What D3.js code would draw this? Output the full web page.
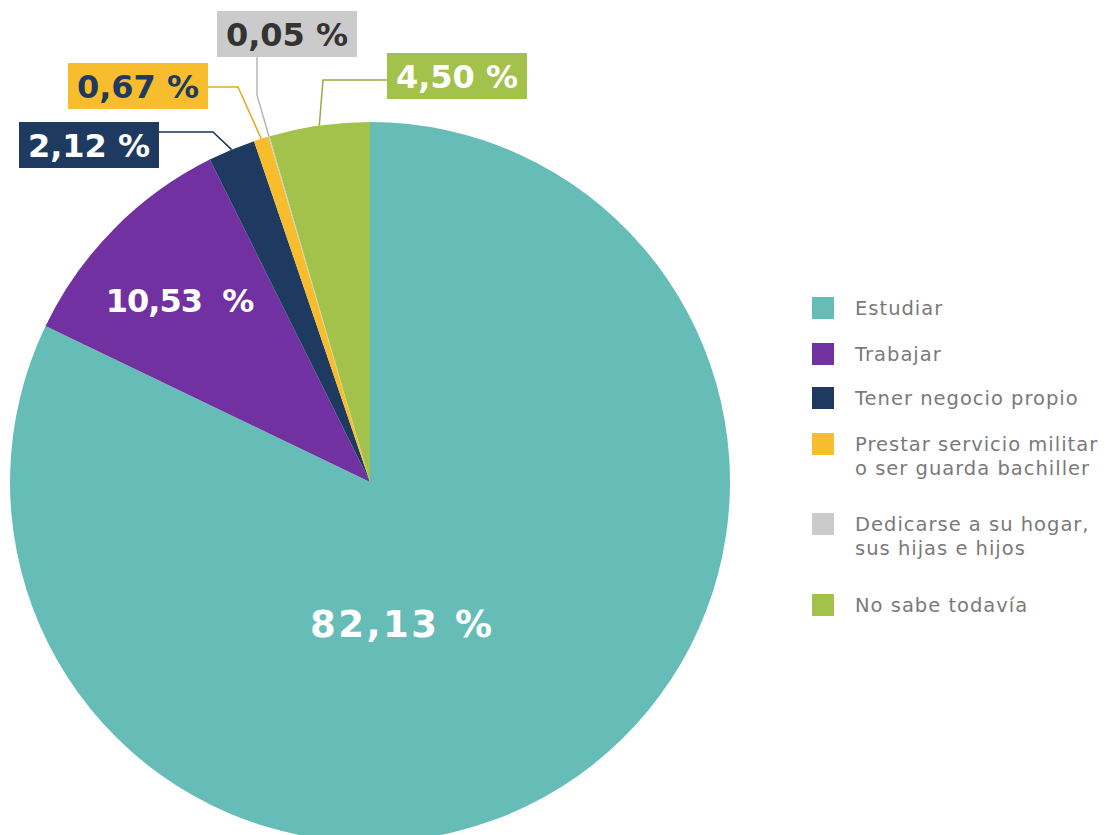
<!DOCTYPE html>
<html><head><meta charset="utf-8">
<script src="https://cdn.jsdelivr.net/npm/d3@7"></script>
<style>body{margin:0;background:#fff}svg{display:block}</style>
</head><body>
<svg id="c" width="1109" height="835"></svg>
<script>
const categories = ["Estudiar","Trabajar","Tener negocio propio","Prestar servicio militar\no ser guarda bachiller","Dedicarse a su hogar,\nsus hijas e hijos","No sabe todavía"];
const values = [82.13, 10.53, 2.12, 0.67, 0.05, 4.50];
const labels = ["82,13 %","10,53  %","2,12 %","0,67 %","0,05 %","4,50 %"];
const colors = ["#66bdb8","#7131a1","#1e3a60","#f8bd2d","#cbcbcb","#a3c24b"];

const svg = d3.select("#c");
const cx = 370, cy = 482, R = 360;
const bold = "'DejaVu Sans', sans-serif";
const reg = "'DejaVu Sans', sans-serif";
const data = values.map((v,i)=>({cat:categories[i], v, label:labels[i], color:colors[i]}));

const pie = d3.pie().sort(null).value(d=>d.v);
const arcs = pie(data);
const arc = d3.arc().innerRadius(0).outerRadius(R);
const g = svg.append("g").attr("transform",`translate(${cx},${cy})`);
g.selectAll("path").data(arcs).join("path").attr("d",arc).attr("fill",d=>d.data.color);

// inner labels
const inner = [{i:0, x:401, y:637, size:37, ls:2.5},{i:1, x:180, y:312, size:32, ls:-1}];
inner.forEach(o=>{
  svg.append("text").attr("x",o.x + o.ls/2).attr("y",o.y).attr("text-anchor","middle")
    .attr("fill","#fff").attr("font-family",bold).attr("font-weight",700)
    .attr("font-size",o.size).attr("letter-spacing",o.ls).style("white-space","pre").text(labels[o.i]);
});

// boxed labels with leaders (layout)
const boxes = [
  {i:2, bx:19, by:122, pts:[[213,132],[159,132]], text:"#ffffff"},
  {i:3, bx:68, by:63, pts:[[238,87],[208,87]], text:"#1e3a60"},
  {i:4, bx:217, by:11, pts:[[257,95],[257,57]], text:"#333333"},
  {i:5, bx:387, by:53, pts:[[323,80],[387,80]], text:"#ffffff"}
];
boxes.forEach(b=>{
  const a = arcs[b.i];
  const mid = (a.startAngle+a.endAngle)/2;
  const ax = cx + R*Math.sin(mid), ay = cy - R*Math.cos(mid);
  const line = d3.line();
  svg.append("path").attr("d",line([[ax,ay]].concat(b.pts)))
    .attr("fill","none").attr("stroke",d3.color(colors[b.i]).darker(0.3)).attr("stroke-width",1.5);
  svg.append("rect").attr("x",b.bx).attr("y",b.by).attr("width",140).attr("height",46).attr("fill",colors[b.i]);
  svg.append("text").attr("x",b.bx+70).attr("y",b.by+35).attr("text-anchor","middle")
    .attr("fill",b.text).attr("font-family",bold).attr("font-weight",700).attr("font-size",32)
    .text(labels[b.i]);
});

// legend
const legY = [297, 343, 387, 433, 513, 594];
const lg = svg.append("g");
data.forEach((d,i)=>{
  lg.append("rect").attr("x",812).attr("y",legY[i]).attr("width",22).attr("height",22).attr("fill",d.color);
  const t = lg.append("text").attr("x",855).attr("y",legY[i]+18).attr("fill","#7a7a7a")
    .attr("font-family",reg).attr("font-size",19.5).attr("letter-spacing",1);
  d.cat.split("\n").forEach((line,k)=>{
    t.append("tspan").attr("x",855).attr("dy",k?24:0).text(line);
  });
});
</script>
</body></html>
